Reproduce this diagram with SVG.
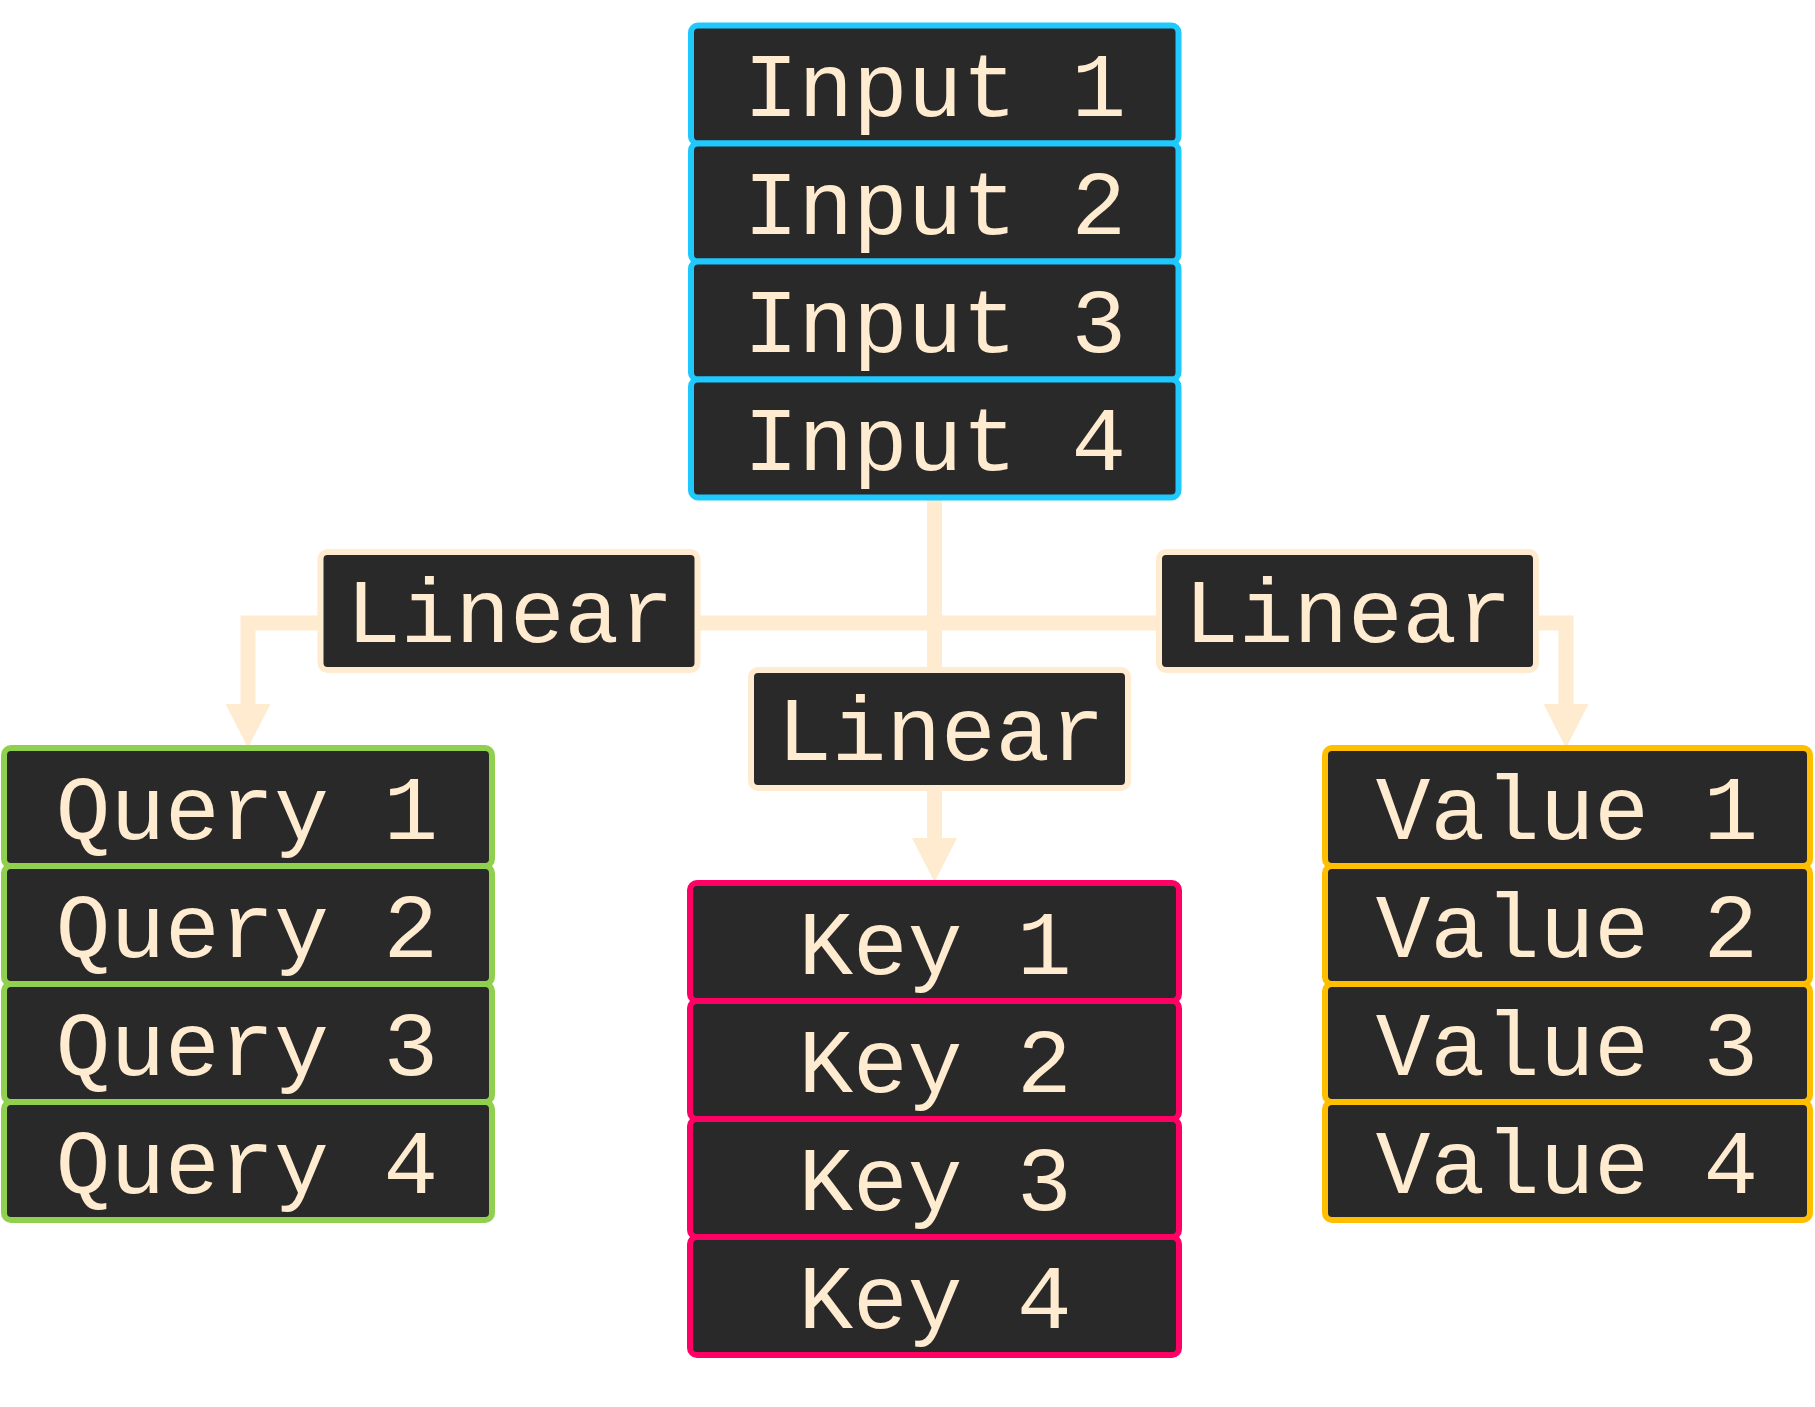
<svg xmlns="http://www.w3.org/2000/svg" width="1815" height="1407" viewBox="0 0 1815 1407">
<style>
.box{fill:#292929;stroke-width:6}
.in{stroke:#1fc8fd}
.q{stroke:#90d04e}
.k{stroke:#ff0065}
.v{stroke:#ffbf00}
.lin{stroke:#feebd0}
.t{font-family:"Liberation Mono","DejaVu Sans Mono",monospace;font-size:91px;fill:#feebd0;text-anchor:middle}
.wire{fill:none;stroke:#feebd0;stroke-width:15;stroke-linejoin:miter;stroke-linecap:butt}
.head{fill:#feebd0}
</style>
<rect width="1815" height="1407" fill="#ffffff"/>
<g id="connectors">
<path class="wire" d="M934.5 497 V671"/>
<path class="wire" d="M248 705 V623 H1566 V705"/>
<polygon class="head" points="225.5,704 270.5,704 248,748"/>
<polygon class="head" points="1543.5,704 1588.5,704 1566,748"/>
<path class="wire" d="M934.5 788 V839"/>
<polygon class="head" points="912,838 957,838 934.5,882"/>
</g>
<g id="input1"><rect class="box in" x="691" y="25.5" width="487.5" height="118" rx="7"/><text class="t" x="935" y="116">Input 1</text></g>
<g id="input2"><rect class="box in" x="691" y="143.5" width="487.5" height="118" rx="7"/><text class="t" x="935" y="234">Input 2</text></g>
<g id="input3"><rect class="box in" x="691" y="261.5" width="487.5" height="118" rx="7"/><text class="t" x="935" y="352">Input 3</text></g>
<g id="input4"><rect class="box in" x="691" y="379.5" width="487.5" height="118" rx="7"/><text class="t" x="935" y="470">Input 4</text></g>
<g id="linearQ"><rect class="box lin" x="320.5" y="552" width="377" height="118" rx="7"/><text class="t" x="510" y="642">Linear</text></g>
<g id="linearV"><rect class="box lin" x="1159" y="552" width="377" height="118" rx="7"/><text class="t" x="1348" y="642">Linear</text></g>
<g id="linearK"><rect class="box lin" x="751" y="670" width="377" height="118" rx="7"/><text class="t" x="941" y="760">Linear</text></g>
<g id="query1"><rect class="box q" x="4" y="748" width="488" height="118" rx="7"/><text class="t" x="247" y="839">Query 1</text></g>
<g id="query2"><rect class="box q" x="4" y="866" width="488" height="118" rx="7"/><text class="t" x="247" y="957">Query 2</text></g>
<g id="query3"><rect class="box q" x="4" y="984" width="488" height="118" rx="7"/><text class="t" x="247" y="1075">Query 3</text></g>
<g id="query4"><rect class="box q" x="4" y="1102" width="488" height="118" rx="7"/><text class="t" x="247" y="1193">Query 4</text></g>
<g id="key1"><rect class="box k" x="690" y="883" width="489" height="118" rx="7"/><text class="t" x="935" y="974">Key 1</text></g>
<g id="key2"><rect class="box k" x="690" y="1001" width="489" height="118" rx="7"/><text class="t" x="935" y="1092">Key 2</text></g>
<g id="key3"><rect class="box k" x="690" y="1119" width="489" height="118" rx="7"/><text class="t" x="935" y="1210">Key 3</text></g>
<g id="key4"><rect class="box k" x="690" y="1237" width="489" height="118" rx="7"/><text class="t" x="935" y="1328">Key 4</text></g>
<g id="value1"><rect class="box v" x="1325" y="748" width="485" height="118" rx="7"/><text class="t" x="1567" y="839">Value 1</text></g>
<g id="value2"><rect class="box v" x="1325" y="866" width="485" height="118" rx="7"/><text class="t" x="1567" y="957">Value 2</text></g>
<g id="value3"><rect class="box v" x="1325" y="984" width="485" height="118" rx="7"/><text class="t" x="1567" y="1075">Value 3</text></g>
<g id="value4"><rect class="box v" x="1325" y="1102" width="485" height="118" rx="7"/><text class="t" x="1567" y="1193">Value 4</text></g>
</svg>
